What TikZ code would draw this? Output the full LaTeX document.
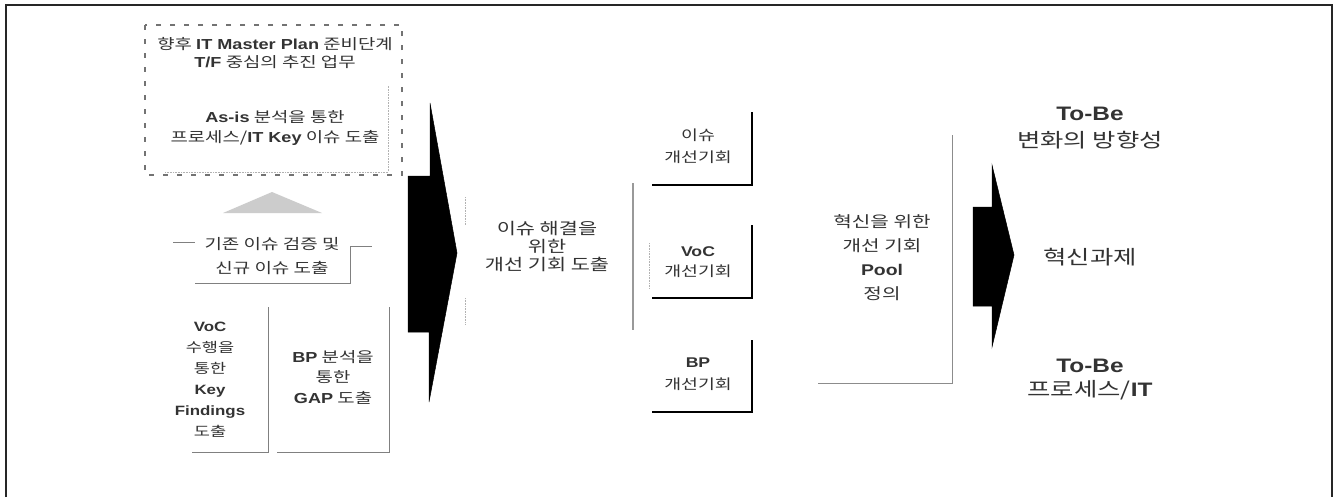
\documentclass[tikz,border=0pt]{standalone}
\usepackage{fontspec}
\setmainfont[FakeStretch=1.3]{Noto Sans CJK KR}
\newfontfamily\latf[FakeStretch=1.25]{Liberation Sans}
\newcommand\eng[1]{{\latf\bfseries #1}}
\begin{document}
\begin{tikzpicture}[x=1pt,y=-1pt,
  txt/.style={inner sep=0pt, align=center, text=black!80},
  sz/.style 2 args={font=\fontsize{#1}{#2}\selectfont},
  frameline/.style={draw=black!85, line width=1.2pt},
  dashbox/.style={draw=black!55, line width=2pt, dash pattern=on 5pt off 9pt},
  faint/.style={draw=black!30, line width=0.6pt},
  thinbox/.style={draw=black!50, line width=0.7pt},
  blackbox/.style={draw=black, line width=1.6pt},
  bigarrow/.style={fill=black, draw=black, line width=0.5pt}
]
\useasboundingbox (0,0) rectangle (1335,498);
\fill[white] (0,0) rectangle (1335,498);
% outer frame
\draw[frameline] (6,497) -- (6,5) -- (1332,5) -- (1332,497);

% dashed box (top left)
\draw[dashbox] (145,25) rectangle (402,175);
\draw[faint, densely dotted] (165,172) -- (388,172) -- (388,85);
\node[txt, sz={14.5}{18}] (plan) at (275,53) {향후 \eng{IT Master Plan} 준비단계\\\eng{T/F} 중심의 추진 업무};
\node[txt, sz={14.5}{20}] (asis) at (275,128) {\eng{As-is} 분석을 통한\\프로세스/\eng{IT Key} 이슈 도출};

% up triangle
\fill[black!20] (272,192) -- (322,213) -- (223,213) -- cycle;

% bracket
\node[txt, sz={14.6}{24}] (verify) at (272,256) {기존 이슈 검증 및\\신규 이슈 도출};
\draw[thinbox] (173,242) -- (195,242);
\draw[thinbox] (195,283) -- (350,283) -- (350,246) -- (372,246);

% bottom two boxes
\draw[thinbox] (192,452) -- (268,452) -- (268,307);
\draw[thinbox] (277,452) -- (389,452) -- (389,307);
\node[txt, sz={13.5}{21}] (voc) at (210,380) {\eng{VoC}\\수행을\\통한\\\eng{Key}\\\eng{Findings}\\도출};
\node[txt, sz={14.5}{20.5}] (bp) at (333,377) {\eng{BP} 분석을\\통한\\\eng{GAP} 도출};

% big arrow 1
\path[bigarrow] (408,176) -- (430,176) -- (430,103) -- (457,253) -- (429,402) -- (429,332) -- (408,332) -- cycle;

% middle text
\draw[faint, densely dotted] (465,197) -- (465,225);
\draw[faint, densely dotted] (465,298) -- (465,325);
\node[txt, sz={16}{18}] (issue) at (547,247) {이슈 해결을\\위한\\개선 기회 도출};
\draw[draw=black!40, line width=1.3pt] (633,183) -- (633,330);

% three opportunity boxes
\draw[blackbox] (652,185) -- (752,185) -- (752,112);
\draw[blackbox] (652,298) -- (752,298) -- (752,225);
\draw[blackbox] (652,412) -- (752,412) -- (752,340);
\draw[faint, densely dotted] (649,243) -- (649,288);
\node[txt, sz={14.1}{22}] (oppA) at (698,146) {이슈\\개선기회};
\node[txt, sz={14.1}{20}] (oppB) at (698,262) {\eng{VoC}\\개선기회};
\node[txt, sz={14.1}{22}] (oppC) at (698,374) {\eng{BP}\\개선기회};

% pool box
\draw[draw=black!45, line width=1pt] (818,383) -- (952,383) -- (952,135);
\node[txt, sz={15.5}{24}] (pool) at (882,258) {혁신을 위한\\개선 기회\\\eng{Pool}\\정의};

% big arrow 2
\path[bigarrow] (973,207) -- (992,207) -- (992,165) -- (1014,255) -- (992,347) -- (992,306) -- (973,306) -- cycle;

% right texts
\node[txt, sz={19.5}{27}] (dir) at (1090,128) {\eng{To-Be}\\변화의 방향성};
\node[txt, sz={19.5}{24}] (task) at (1090,257) {혁신과제};
\node[txt, sz={19.5}{24}] (proc) at (1090,380) {\eng{To-Be}\\프로세스/\eng{IT}};
\end{tikzpicture}
\end{document}
